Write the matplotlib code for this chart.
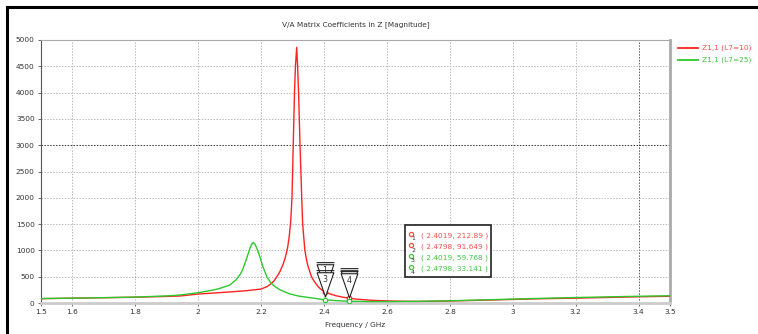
import matplotlib
matplotlib.use("Agg")
import matplotlib.pyplot as plt
from matplotlib.lines import Line2D
from matplotlib.patches import Rectangle
from matplotlib.path import Path

# --- data ---
freq_red = [1.5, 1.6, 1.7, 1.8, 1.9, 1.942, 2.0, 2.05, 2.1, 2.154, 2.2, 2.22,
            2.23, 2.24, 2.25, 2.26, 2.27, 2.277, 2.284, 2.289, 2.294, 2.298,
            2.302, 2.306, 2.309, 2.313, 2.316, 2.319, 2.3236, 2.329, 2.332,
            2.339, 2.345, 2.35, 2.36, 2.37, 2.38, 2.39, 2.4019, 2.42, 2.44,
            2.46, 2.4798, 2.5, 2.55, 2.6, 2.65, 2.7, 2.75, 2.8, 2.9, 3.0, 3.1,
            3.2, 3.3, 3.4, 3.5]
mag_red = [82, 92, 100, 110, 125, 133, 171, 190, 210, 234, 266, 315,
           360, 415, 500, 600, 740, 870, 1050, 1250, 1550, 2000,
           3000, 4000, 4500, 4860, 4500, 4000, 3000, 2000, 1500,
           1000, 800, 680, 500, 400, 320, 260, 213, 170, 135,
           110, 92, 75, 52, 40, 33, 30, 33, 38, 52, 68, 82,
           92, 105, 118, 128]

freq_green = [1.5, 1.6, 1.7, 1.8, 1.9, 1.942, 2.0, 2.05, 2.07, 2.1, 2.12, 2.133,
              2.14, 2.15, 2.16, 2.165, 2.17, 2.175, 2.18, 2.185, 2.19, 2.196,
              2.205, 2.218, 2.23, 2.24, 2.26, 2.29, 2.318, 2.35, 2.375, 2.4019,
              2.44, 2.4798, 2.55, 2.6, 2.7, 2.8, 2.9, 3.0, 3.1, 3.2, 3.3, 3.4,
              3.5]
mag_green = [85, 92, 102, 112, 135, 152, 196, 250, 280, 340, 440, 540,
             620, 780, 960, 1050, 1120, 1150, 1120, 1060, 980, 880,
             700, 500, 390, 330, 250, 175, 133, 105, 85, 60,
             45, 33, 27, 27, 32, 42, 58, 74, 90, 104, 116, 128,
             138]

series_labels = ["Z1,1 (L7=10)", "Z1,1 (L7=25)"]

# markers
marker_ids = [1, 2, 3, 4]
marker_freq = [2.4019, 2.4798, 2.4019, 2.4798]
marker_val = [212.89, 91.649, 59.768, 33.141]
marker_text = ["( 2.4019, 212.89 )", "( 2.4798, 91.649 )",
               "( 2.4019, 59.768 )", "( 2.4798, 33.141 )"]

x_ticks = [1.5, 1.6, 1.8, 2.0, 2.2, 2.4, 2.6, 2.8, 3.0, 3.2, 3.4, 3.5]
x_tick_labels = ["1.5", "1.6", "1.8", "2", "2.2", "2.4", "2.6", "2.8", "3",
                 "3.2", "3.4", "3.5"]
y_ticks = list(range(0, 5001, 500))

RED = "#ff2222"
GREEN = "#2ec82e"
RED_T = "#ff4d4d"
GREEN_T = "#44c444"
FS = 5.3

W, H = 758, 334
def fx(px):
    return px / W
def fy(py):
    return 1 - py / H

fig = plt.figure(figsize=(7.58, 3.34), dpi=100)
ax = fig.add_axes([fx(41), fy(303), fx(670) - fx(41), fy(40) - fy(303)])

ax.plot(freq_red, mag_red, color=RED, lw=1.0, zorder=3)
ax.plot(freq_green, mag_green, color=GREEN, lw=1.0, zorder=3)

ax.set_xlim(1.5, 3.5)
ax.set_ylim(0, 5000)
ax.set_xticks(x_ticks)
ax.set_xticklabels(x_tick_labels)
ax.set_yticks(y_ticks)
ax.tick_params(labelsize=FS, length=2.5, width=0.6, color="#555555",
               labelcolor="#333333", pad=2)

# grid
for xt in x_ticks[1:-1]:
    c = "#555555" if xt == 3.4 else "#bbbbbb"
    ax.axvline(xt, color=c, lw=0.7, ls=(0, (1.5, 1.5)), zorder=1)
for yt in y_ticks[1:-1]:
    c = "#333333" if yt == 3000 else "#bbbbbb"
    ax.axhline(yt, color=c, lw=0.7, ls=(0, (1.5, 1.5)), zorder=1)

ax.spines["left"].set_color("#555555")
ax.spines["left"].set_linewidth(0.8)
ax.spines["top"].set_color("#aaaaaa")
ax.spines["top"].set_linewidth(0.8)
ax.spines["right"].set_color("#aaaaaa")
ax.spines["right"].set_linewidth(2.0)
ax.spines["bottom"].set_color("#cccccc")
ax.spines["bottom"].set_linewidth(2.0)

ax.set_title("V/A Matrix Coefficients in Z [Magnitude]", fontsize=FS,
             color="#333333", pad=10)
ax.set_xlabel("Frequency / GHz", fontsize=FS, color="#333333", labelpad=5)

# data point markers (small circles)
for i in range(4):
    c = RED if marker_ids[i] in (1, 2) else GREEN
    ax.plot(marker_freq[i], marker_val[i], marker="o", ms=3.2, mfc="white",
            mec=c, mew=0.9, zorder=5)

# triangle flags, tip just above the point, bar on top
tri = Path([(0, 0.12), (-0.28, 0.93), (0.28, 0.93), (0, 0.12),
            (-0.3, 1.0), (0.3, 1.0)],
           [Path.MOVETO, Path.LINETO, Path.LINETO, Path.CLOSEPOLY,
            Path.MOVETO, Path.LINETO])
for i in range(4):
    ax.plot(marker_freq[i], marker_val[i], marker=tri, ms=43, mfc="white",
            mec="#222222", mew=0.8, zorder=6 + 2 * i)
    if marker_ids[i] == 2:
        continue  # hidden behind marker 4
    ax.annotate(str(marker_ids[i]), (marker_freq[i], marker_val[i]),
                xytext=(0, 15), textcoords="offset points", ha="center",
                va="center", fontsize=FS + 0.5, color="#333333",
                zorder=7 + 2 * i)

# marker value box
fig.add_artist(Rectangle((fx(405), fy(277)), fx(491) - fx(405), fy(225) - fy(277),
                         transform=fig.transFigure, fc="white", ec="#222222",
                         lw=1.2, zorder=20))
rows_y = [235.5, 246.5, 257.5, 268.5]
for i in range(4):
    c = RED_T if marker_ids[i] in (1, 2) else GREEN_T
    fig.add_artist(Line2D([fx(411)], [fy(rows_y[i] - 1.5)], marker="o", ms=3,
                          mfc="white", mec=c, mew=0.9,
                          transform=fig.transFigure, zorder=21))
    fig.text(fx(413), fy(rows_y[i] + 3.5), str(marker_ids[i]), fontsize=FS - 0.8,
             color="#333333", ha="center", va="center", zorder=21)
    fig.text(fx(421), fy(rows_y[i]), marker_text[i], fontsize=FS, color=c,
             ha="left", va="center", zorder=21)

# legend outside on the right
leg_y = [47.5, 59.5]
for i, (lab, lc, tc) in enumerate(zip(series_labels, [RED, GREEN], [RED_T, GREEN_T])):
    fig.add_artist(Line2D([fx(678), fx(698)], [fy(leg_y[i]), fy(leg_y[i])],
                          color=lc, lw=1.3, transform=fig.transFigure))
    fig.text(fx(702), fy(leg_y[i]), lab, fontsize=FS, color=tc,
             ha="left", va="center")

# window frame (top and left edges)
fig.add_artist(Line2D([fx(7), fx(758)], [fy(7), fy(7)], color="black", lw=2.2,
                      transform=fig.transFigure))
fig.add_artist(Line2D([fx(7), fx(7)], [fy(7), fy(334)], color="black", lw=2.2,
                      transform=fig.transFigure))

fig.savefig("out.png", dpi=100)
